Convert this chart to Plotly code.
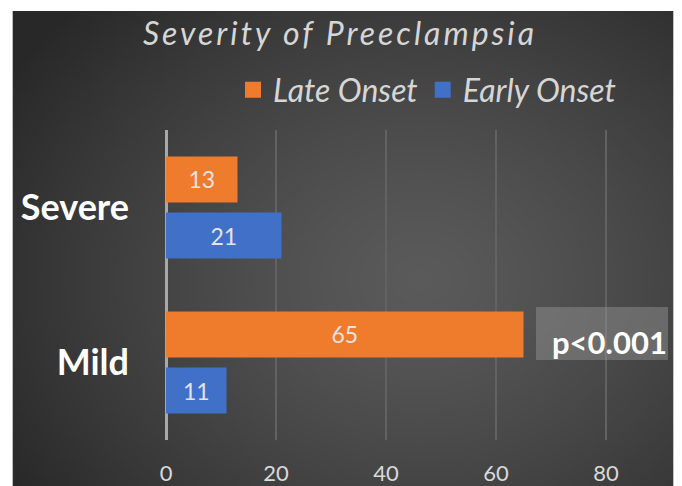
import base64, struct, zlib, math
import plotly.graph_objects as go

# ---------------- data ----------------
categories = ["Mild", "Severe"]          # bottom -> top
late_onset = [65, 13]
early_onset = [11, 21]
x_ticks = [0, 20, 40, 60, 80]
title_text = "Severity of Preeclampsia"
p_text = "p&lt;0.001"

# ---------------- geometry ----------------
# the page body has an 8px margin, so the figure is offset by 8px
OFF = 8
FW, FH = 682 - OFF, 486 - OFF
L, R, T, B = 166 - OFF, 16, 130 - OFF, 46
PW, PH = FW - L - R, FH - T - B
XMAX = PW / 5.5


def px(xp):          # screen px -> paper x
    return (xp - OFF - L) / PW


def py(yp):          # screen px -> paper y
    return 1 - (yp - OFF - T) / PH


# ---------------- background gradient image ----------------
def make_png(w, h, fn):
    raw = bytearray()
    for j in range(h):
        raw.append(0)
        for i in range(w):
            raw.extend(fn(i, j))

    def chunk(tag, data):
        c = struct.pack(">I", len(data)) + tag + data
        return c + struct.pack(">I", zlib.crc32(tag + data) & 0xFFFFFFFF)

    png = b"\x89PNG\r\n\x1a\n"
    png += chunk(b"IHDR", struct.pack(">IIBBBBB", w, h, 8, 2, 0, 0, 0))
    png += chunk(b"IDAT", zlib.compress(bytes(raw), 9))
    png += chunk(b"IEND", b"")
    return png


BG_X0, BG_Y0, BG_X1, BG_Y1 = 12.7, 11, 673.3, 490
IW, IH = 220, 160
CX, CY = 420, 280
RX, RY = 420, 340


def grad(i, j):
    xf = BG_X0 + (i + 0.5) / IW * (BG_X1 - BG_X0)
    yf = BG_Y0 + (j + 0.5) / IH * (BG_Y1 - BG_Y0)
    r = math.sqrt(((xf - CX) / RX) ** 2 + ((yf - CY) / RY) ** 2)
    r = min(r, 1.15) / 1.15
    c0, c1 = 90, 40
    v = int(round(c0 + (c1 - c0) * r ** 1.3))
    return (v, v, v)


bg_src = "data:image/png;base64," + base64.b64encode(make_png(IW, IH, grad)).decode()

# ---------------- figure ----------------
FONT = "Lato, 'Open Sans', sans-serif"
ORANGE = "#EF7B2D"
BLUE = "#4170C8"

fig = go.Figure()
fig.add_trace(go.Bar(
    y=categories, x=early_onset, orientation="h", name="Early Onset",
    marker=dict(color=BLUE, line=dict(width=0)),
    text=[str(v) for v in early_onset], textposition="inside",
    insidetextanchor="middle", textangle=0,
    textfont=dict(family=FONT, size=23, color="#e4e4e4"),
    showlegend=False, hoverinfo="skip",
))
fig.add_trace(go.Bar(
    y=categories, x=late_onset, orientation="h", name="Late Onset",
    marker=dict(color=ORANGE, line=dict(width=0)),
    text=[str(v) for v in late_onset], textposition="inside",
    insidetextanchor="middle", textangle=0,
    textfont=dict(family=FONT, size=23, color="#e4e4e4"),
    showlegend=False, hoverinfo="skip",
))
# legend entries (square swatches)
fig.add_trace(go.Scatter(x=[None], y=[None], mode="markers", name="Late Onset",
                         marker=dict(symbol="square", size=17, color=ORANGE)))
fig.add_trace(go.Scatter(x=[None], y=[None], mode="markers", name="Early Onset",
                         marker=dict(symbol="square", size=17, color=BLUE)))

fig.update_layout(
    width=FW, height=FH,
    margin=dict(l=L, r=R, t=T, b=B, pad=0, autoexpand=False),
    paper_bgcolor="white", plot_bgcolor="rgba(0,0,0,0)",
    barmode="group", bargap=0.277, bargroupgap=0.179,
    title=dict(
        text='<span style="letter-spacing:3px">' + title_text + "</span>",
        x=(340 - OFF) / FW, xref="container", xanchor="center",
        y=1 - (34 - OFF) / FH, yref="container", yanchor="middle",
        font=dict(family=FONT, size=32, color="#d6d6d6", style="italic"),
    ),
    legend=dict(
        orientation="h", x=px(233), xanchor="left", y=py(90), yanchor="middle",
        font=dict(family=FONT, size=32, color="#d6d6d6", style="italic"),
        bgcolor="rgba(0,0,0,0)", itemclick=False, itemdoubleclick=False,
    ),
    xaxis=dict(
        range=[0, XMAX], tickvals=x_ticks, ticktext=[str(v) for v in x_ticks],
        showgrid=True, gridcolor="#626262", gridwidth=1.5,
        zeroline=True, zerolinecolor="#a8a8a8", zerolinewidth=2.5,
        showline=False, ticks="", ticklabelstandoff=18, automargin=False,
        tickfont=dict(family=FONT, size=22, color="#d9d9d9"),
        fixedrange=True,
    ),
    yaxis=dict(
        categoryorder="array", categoryarray=categories,
        showgrid=False, zeroline=False, showline=False, ticks="",
        ticklabelstandoff=36, automargin=False,
        tickfont=dict(family=FONT, size=36, color="white", weight="bold"),
        fixedrange=True,
    ),
    images=[dict(
        source=bg_src, xref="paper", yref="paper",
        x=px(BG_X0), y=py(BG_Y0), sizex=(BG_X1 - BG_X0) / PW, sizey=(BG_Y1 - BG_Y0) / PH,
        xanchor="left", yanchor="top", sizing="stretch", layer="below",
    )],
    shapes=[dict(
        type="rect", xref="paper", yref="paper",
        x0=px(536), x1=px(668), y0=py(360), y1=py(307),
        fillcolor="rgba(150,150,150,0.45)", line=dict(width=0), layer="above",
    )],
    annotations=[dict(
        text=p_text, xref="paper", yref="paper",
        x=px(669), y=py(342), xanchor="right", yanchor="middle", showarrow=False,
        font=dict(family=FONT, size=31, color="white", weight="bold"),
    )],
)

fig.write_html("out.html")
